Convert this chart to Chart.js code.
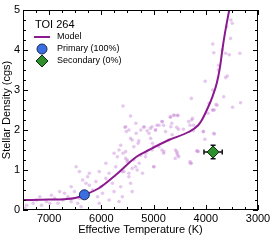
<!DOCTYPE html>
<html>
<head>
<meta charset="utf-8">
<script src="https://cdn.jsdelivr.net/npm/chart.js@4"></script>
<style>
html, body { margin: 0; padding: 0; background: #fff; }
</style>
</head>
<body>
<canvas id="grafico" width="274" height="240"></canvas>
<script>
// model curve
const modelTemp = [7500, 7000, 6700, 6500, 6325, 6040, 5720, 5340, 5090, 4710, 4330, 4145, 4075, 3980, 3873, 3790, 3727, 3683, 3633, 3551];
const modelDensity = [0.25, 0.26, 0.27, 0.30, 0.38, 0.55, 0.88, 1.32, 1.5, 1.75, 1.95, 2.12, 2.25, 2.5, 2.83, 3.17, 3.58, 4.0, 4.42, 5.0];

// background stars
const fieldTemp = [
    3519, 3494, 3600, 3525, 3866, 3683, 3847, 3620, 3551, 3348, 3752, 3759, 3589, 3620, 4012, 3866, 3658, 4277, 3803, 3936,
    3335, 3487, 3836, 3873, 4675, 4600, 4537, 4253,
    5585, 5440, 5547, 5522, 5440, 5333, 5282, 5295, 5187, 5124, 5060, 5030, 4966, 4935, 4840, 4808, 4681, 4618, 4537, 4650,
    4669, 4556, 4524, 4429, 4302, 4272, 4239, 4050, 3955, 3860, 3784, 3847, 4018, 4163, 4277,
    5661, 5585, 5534, 5503, 5409, 5314, 5598, 5472, 5377, 5250, 5155, 5030, 4998, 4840, 4808, 4556, 4537, 4586, 4302, 4998, 4145,
    7430, 7462, 7305, 7240, 7145, 7051, 6956, 6893, 6830, 6736, 6704, 6641, 6577, 6514, 6452, 6420, 6388, 6420, 6357, 6262,
    6230, 6167, 6103, 6072, 6040, 6008, 5978, 5913, 5851, 5851, 5788, 5756, 5724, 5693, 5661, 5629, 5598, 5566, 5534, 5503,
    5472, 5440, 5409, 5377, 5345, 5534, 5472, 5409, 5629, 5756, 5913, 6040, 6230, 6293, 6483, 6577, 6799, 6988, 7178,
    5339, 5244, 5181, 5087, 5055, 5022, 4960, 4897, 4833, 4770, 4708, 4644, 4581, 4549, 4518, 5276, 5212, 4992, 4897, 4802,
    5149, 4296, 4169, 3836, 4044, 4233, 4328
];
const fieldDensity = [
    4.75, 4.67, 4.58, 4.29, 4.15, 4.0, 3.93, 3.92, 3.88, 3.92, 3.62, 3.5, 3.35, 3.31, 3.22, 3.0, 2.83, 2.79, 2.64, 2.67,
    2.68, 2.57, 2.5, 2.5, 2.32, 2.37, 2.37, 2.29,
    2.6, 2.35, 2.07, 1.96, 1.79, 1.92, 1.73, 1.67, 2.07, 1.98, 2.04, 2.08, 2.0, 2.12, 2.21, 2.12, 2.33, 2.37, 2.36, 2.17,
    2.08, 2.07, 2.02, 2.02, 2.12, 2.25, 1.98, 1.96, 2.42, 2.5, 2.62, 1.92, 1.77, 1.47, 1.17,
    1.5, 1.42, 1.29, 1.21, 1.04, 1.0, 0.96, 0.92, 1.25, 1.37, 1.33, 1.5, 1.58, 1.5, 1.42, 1.46, 1.37, 1.29, 1.21, 1.08, 1.46,
    0.12, 0.04, 0.17, 0.25, 0.12, 0.21, 0.37, 0.29, 0.17, 0.25, 0.42, 0.33, 0.21, 0.46, 0.17, 0.29, 0.08, 0.96, 0.75, 0.83,
    0.62, 0.5, 0.71, 0.33, 0.17, 0.58, 0.42, 0.79, 0.25, 0.92, 0.67, 0.46, 1.08, 1.33, 0.21, 0.58, 0.33, 0.96, 1.46, 1.25,
    0.83, 0.67, 0.46, 1.58, 1.08, 2.08, 2.0, 1.75, 1.62, 1.42, 1.17, 0.96, 0.92, 0.67, 1.08, 0.58, 0.46, 0.17, 0.33,
    2.17, 2.0, 2.08, 1.92, 1.79, 1.67, 2.0, 2.12, 2.21, 1.96, 1.75, 1.88, 1.5, 1.42, 1.33, 1.17, 0.92, 1.08, 1.58, 1.46,
    1.42, 1.17, 1.48, 1.9, 1.96, 2.12, 2.21
];

// the two stellar solutions
const primaryTemp = 6325, primaryDensity = 0.38, primaryTempErr = 80, primaryDensityErr = 0.03;
const secondaryTemp = 3860, secondaryDensity = 1.45, secondaryTempErr = 175, secondaryDensityErr = 0.17;

const tempTicks = [3000, 4000, 5000, 6000, 7000];
const densityTicks = [0, 1, 2, 3, 4, 5];
const legendTitle = 'TOI 264';

const FONT = '"Liberation Sans Narrow", "Liberation Sans", Arial, sans-serif';

const errorBars = {
    1: [primaryTemp, primaryDensity, primaryTempErr, primaryDensityErr, '#1a2a5a'],
    2: [secondaryTemp, secondaryDensity, secondaryTempErr, secondaryDensityErr, '#111']
};

const framePlugin = {
    id: 'frame',
    beforeDatasetDraw(chart, args) {
        const e = errorBars[args.index];
        if (!e) return;
        const x = chart.scales.x, y = chart.scales.y, ctx = chart.ctx;
        const px = x.getPixelForValue(e[0]), py = y.getPixelForValue(e[1]);
        const x1 = x.getPixelForValue(e[0] - e[2]), x2 = x.getPixelForValue(e[0] + e[2]);
        const y1 = y.getPixelForValue(e[1] - e[3]), y2 = y.getPixelForValue(e[1] + e[3]);
        ctx.save();
        ctx.strokeStyle = e[4];
        ctx.lineWidth = 1.5;
        ctx.beginPath();
        ctx.moveTo(x1, py); ctx.lineTo(x2, py);
        ctx.moveTo(px, y1); ctx.lineTo(px, y2);
        if (args.index === 2) {
            ctx.moveTo(x1, py - 2.5); ctx.lineTo(x1, py + 2.5);
            ctx.moveTo(x2, py - 2.5); ctx.lineTo(x2, py + 2.5);
            ctx.moveTo(px - 2.5, y1); ctx.lineTo(px + 2.5, y1);
            ctx.moveTo(px - 2.5, y2); ctx.lineTo(px + 2.5, y2);
        }
        ctx.stroke();
        ctx.restore();
    },
    afterDatasetsDraw(chart) {
        const a = chart.chartArea, ctx = chart.ctx;
        const x = chart.scales.x, y = chart.scales.y;
        ctx.save();
        ctx.strokeStyle = '#000';
        ctx.lineWidth = 1;
        ctx.strokeRect(a.left + 0.5, a.top + 0.5, a.right - a.left - 1, a.bottom - a.top - 1);
        ctx.beginPath();
        for (let t = 3000; t <= 7500; t += 250) {
            const px = Math.round(x.getPixelForValue(t)) + 0.5;
            const len = t % 1000 === 0 ? 5 : 3;
            ctx.moveTo(px, a.bottom); ctx.lineTo(px, a.bottom - len);
            ctx.moveTo(px, a.top); ctx.lineTo(px, a.top + len);
        }
        for (let d = 0; d <= 5; d += 0.25) {
            const py = Math.round(y.getPixelForValue(d)) + 0.5;
            const len = Math.abs(d - Math.round(d)) < 0.01 ? 5 : 3;
            ctx.moveTo(a.left, py); ctx.lineTo(a.left + len, py);
            ctx.moveTo(a.right, py); ctx.lineTo(a.right - len, py);
        }
        ctx.stroke();

        // legend, top left inside the frame, styled from the datasets
        const ds = chart.data.datasets;
        const lx = a.left + 19, ty = a.top + 15;
        ctx.fillStyle = '#000';
        ctx.textBaseline = 'middle';
        ctx.textAlign = 'left';
        ctx.font = '11px ' + FONT;
        ctx.fillText(legendTitle, a.left + 12, ty);
        ctx.font = '9px ' + FONT;
        for (let i = 0; i < 3; i++) {
            const yy = ty + 12 * (i + 1);
            const d = ds[i];
            ctx.lineWidth = 1;
            if (i === 0) {
                ctx.strokeStyle = d.borderColor;
                ctx.lineWidth = 2;
                ctx.beginPath();
                ctx.moveTo(lx - 8, yy); ctx.lineTo(lx + 8, yy);
                ctx.stroke();
            } else {
                ctx.fillStyle = d.backgroundColor;
                ctx.strokeStyle = d.borderColor;
                Chart.helpers.drawPoint(ctx, {
                    pointStyle: d.pointStyle, radius: d.pointRadius, borderWidth: d.borderWidth, rotation: 0
                }, lx, yy);
            }
            ctx.fillStyle = '#000';
            ctx.fillText(d.label, lx + 15, yy);
        }
        ctx.restore();
    }
};

Chart.defaults.font.family = FONT;
Chart.defaults.color = '#000';

new Chart(document.getElementById('grafico'), {
    type: 'scatter',
    data: {
        datasets: [
            {
                label: 'Model',
                type: 'line',
                data: modelTemp.map((t, i) => ({ x: t, y: modelDensity[i] })),
                borderColor: '#8a1a8e',
                borderWidth: 2,
                pointRadius: 0,
                cubicInterpolationMode: 'monotone',
                fill: false,
                order: 2
            },
            {
                label: 'Primary (100%)',
                data: [{ x: primaryTemp, y: primaryDensity }],
                backgroundColor: '#3b6ee0',
                borderColor: '#1a2a5a',
                borderWidth: 1,
                pointRadius: 5,
                pointStyle: 'circle',
                order: 0
            },
            {
                label: 'Secondary (0%)',
                data: [{ x: secondaryTemp, y: secondaryDensity }],
                backgroundColor: '#2f8f2f',
                borderColor: '#0d2a0d',
                borderWidth: 1,
                pointRadius: 6,
                pointStyle: 'rectRot',
                order: 0
            },
            {
                label: 'field',
                data: fieldTemp.map((t, i) => ({ x: t, y: fieldDensity[i] })),
                backgroundColor: 'rgba(200, 130, 215, 0.45)',
                borderWidth: 0,
                pointRadius: 1.8,
                order: 3
            }
        ]
    },
    options: {
        responsive: false,
        animation: false,
        layout: { padding: { top: 10, right: 16, left: 0, bottom: 0 } },
        scales: {
            x: {
                type: 'linear',
                reverse: true,
                min: 3000,
                max: 7500,
                afterBuildTicks: s => { s.ticks = tempTicks.map(v => ({ value: v })); },
                afterFit: s => { s.height = 30; },
                grid: { display: false, drawTicks: false },
                border: { display: false },
                ticks: { font: { size: 11 }, padding: 2, maxRotation: 0, callback: v => String(v) },
                title: { display: true, text: 'Effective Temperature (K)', font: { size: 11, family: '"Liberation Sans", Arial, sans-serif' }, padding: { top: 0, bottom: 3 } }
            },
            y: {
                min: 0,
                max: 5,
                afterBuildTicks: s => { s.ticks = densityTicks.map(v => ({ value: v })); },
                afterFit: s => { s.width = 23; },
                grid: { display: false, drawTicks: false },
                border: { display: false },
                ticks: { font: { size: 11 }, padding: 3, callback: v => String(v) },
                title: { display: true, text: 'Stellar Density (cgs)', font: { size: 11, family: '"Liberation Sans", Arial, sans-serif' }, padding: { top: 0, bottom: 0 } }
            }
        },
        plugins: {
            tooltip: { enabled: false },
            legend: { display: false }
        }
    },
    plugins: [framePlugin]
});
</script>
</body>
</html>
